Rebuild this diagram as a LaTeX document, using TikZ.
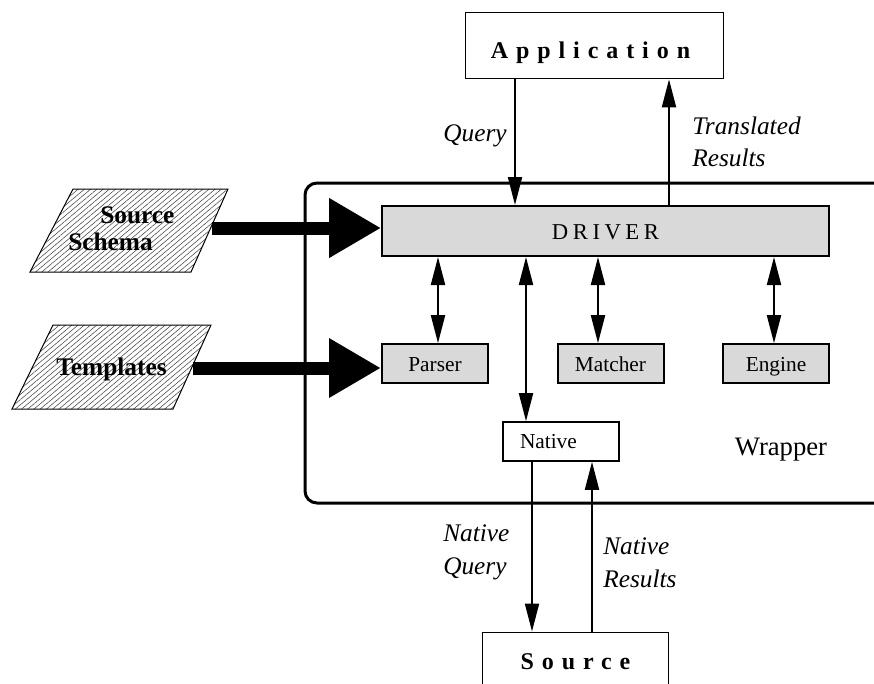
\documentclass[tikz,border=0pt]{standalone}
\usepackage{fontspec}
\setmainfont{Liberation Serif}
\usetikzlibrary{arrows.meta,patterns.meta}

\begin{document}
\begin{tikzpicture}[x=0.75pt,y=-0.75pt]
 \tikzstyle{arrow}  = [-{Triangle[length=21pt,width=10.5pt]},line width=1.5pt];
 \tikzstyle{both}   = [{Triangle[length=21pt,width=10.5pt]}-{Triangle[length=21pt,width=10.5pt]},line width=1.5pt];
 \tikzstyle{fat}    = [-{Triangle[length=39pt,width=42pt]},line width=9.75pt];
 \tikzstyle{plain}  = [draw=black,fill=white,line width=0.75pt,inner sep=0pt];
 \tikzstyle{module} = [draw=black,fill=black!15,line width=1.5pt,inner sep=0pt,minimum height=29pt,
                       text height=12pt,text depth=0pt,font=\fontsize{16}{19}\selectfont];
 \tikzstyle{input}  = [draw=black,line width=0.75pt,pattern={Lines[angle=40,distance=3pt,line width=0.4pt]},pattern color=black!75];
 \tikzstyle{label}  = [font=\fontsize{19}{24.5}\selectfont\itshape,align=left,inner sep=0pt];
 \tikzstyle{title}  = [font=\fontsize{18}{21}\selectfont\bfseries\addfontfeatures{LetterSpace=33}];

 \useasboundingbox (0,0) rectangle (874,683);

 %% wrapper frame
 \draw[line width=2.25pt,rounded corners=9pt] (305,183) rectangle (900,503);
 \node[font=\fontsize{20}{24}\selectfont,anchor=base,name=wrap] at (781,455) {Wrapper};

 %% application / source
 \node[plain,title,minimum width=194pt,minimum height=50pt,text height=19.5pt,text depth=0pt,name=app]
      at (594.5,45.5) {Application\kern6pt};
 \node[plain,title,minimum width=140pt,minimum height=45pt,name=src] at (575.5,662) {Source};

 %% driver and modules
 \node[module,minimum width=335pt,minimum height=37.5pt,
       font=\fontsize{17}{20}\selectfont\addfontfeatures{LetterSpace=20},name=driver] at (605.5,231) {DRIVER};
 \node[module,minimum width=79.5pt,name=parser]  at (435,363.5) {Parser};
 \node[module,minimum width=79.5pt,name=matcher] at (610.5,363.5) {Matcher};
 \node[module,minimum width=79.5pt,name=engine]  at (776,363.5) {Engine};
 \node[plain,line width=1.5pt,minimum height=29pt,text width=61.5pt,inner xsep=12.75pt,align=left,
       font=\fontsize{16}{19}\selectfont,name=native] at (561,441.5) {Native};

 %% inputs
 \draw[input] (30,272) -- (191,272) -- (228,189) -- (73,189) -- cycle;
 \draw[input] (12,409) -- (173,409) -- (211,325) -- (53,325) -- cycle;
 \node[font=\fontsize{19}{20}\selectfont\bfseries,align=left,anchor=west,inner sep=0pt,name=schema] at (68,228.5) {\hspace{24pt}Source\\Schema};
 \node[font=\fontsize{19}{20}\selectfont\bfseries,anchor=base,inner sep=0pt,name=templ] at (111.5,375) {Templates};

 \coordinate (schemaout) at (212,228);
 \coordinate (templout)  at (193,368);
 \draw[fat] (schemaout) -- (schemaout -| driver.west);
 \draw[fat] (templout) -- (templout -| parser.west);

 %% x positions of the thin arrows
 \coordinate (qx)  at (515,0);
 \coordinate (tx)  at (669,0);
 \coordinate (px)  at (438,0);
 \coordinate (nx)  at (526,0);
 \coordinate (mx)  at (598,0);
 \coordinate (ex)  at (774,0);
 \coordinate (nqx) at (532,0);
 \coordinate (nrx) at (592,0);

 \draw[arrow] (app.south -| qx) -- (driver.north -| qx);
 \draw[arrow] (driver.north -| tx) -- (app.south -| tx);
 \draw[both] (driver.south -| px) -- (parser.north -| px);
 \draw[both] (driver.south -| nx) -- (native.north -| nx);
 \draw[both] (driver.south -| mx) -- (matcher.north -| mx);
 \draw[both] (driver.south -| ex) -- (engine.north -| ex);
 \draw[arrow] (native.south -| nqx) -- (src.north -| nqx);
 \draw[arrow] (src.north -| nrx) -- (native.south -| nrx);

 %% labels
 \node[label,anchor=base east,name=qlabel] at (507,141) {Query};
 \node[label,anchor=west,name=tlabel]  at (692,142) {Translated\\Results};
 \node[label,anchor=west,name=nqlabel] at (443,552) {Native\\Query};
 \node[label,anchor=west,name=nrlabel] at (603,563) {Native\\Results};

\end{tikzpicture}
\end{document}
